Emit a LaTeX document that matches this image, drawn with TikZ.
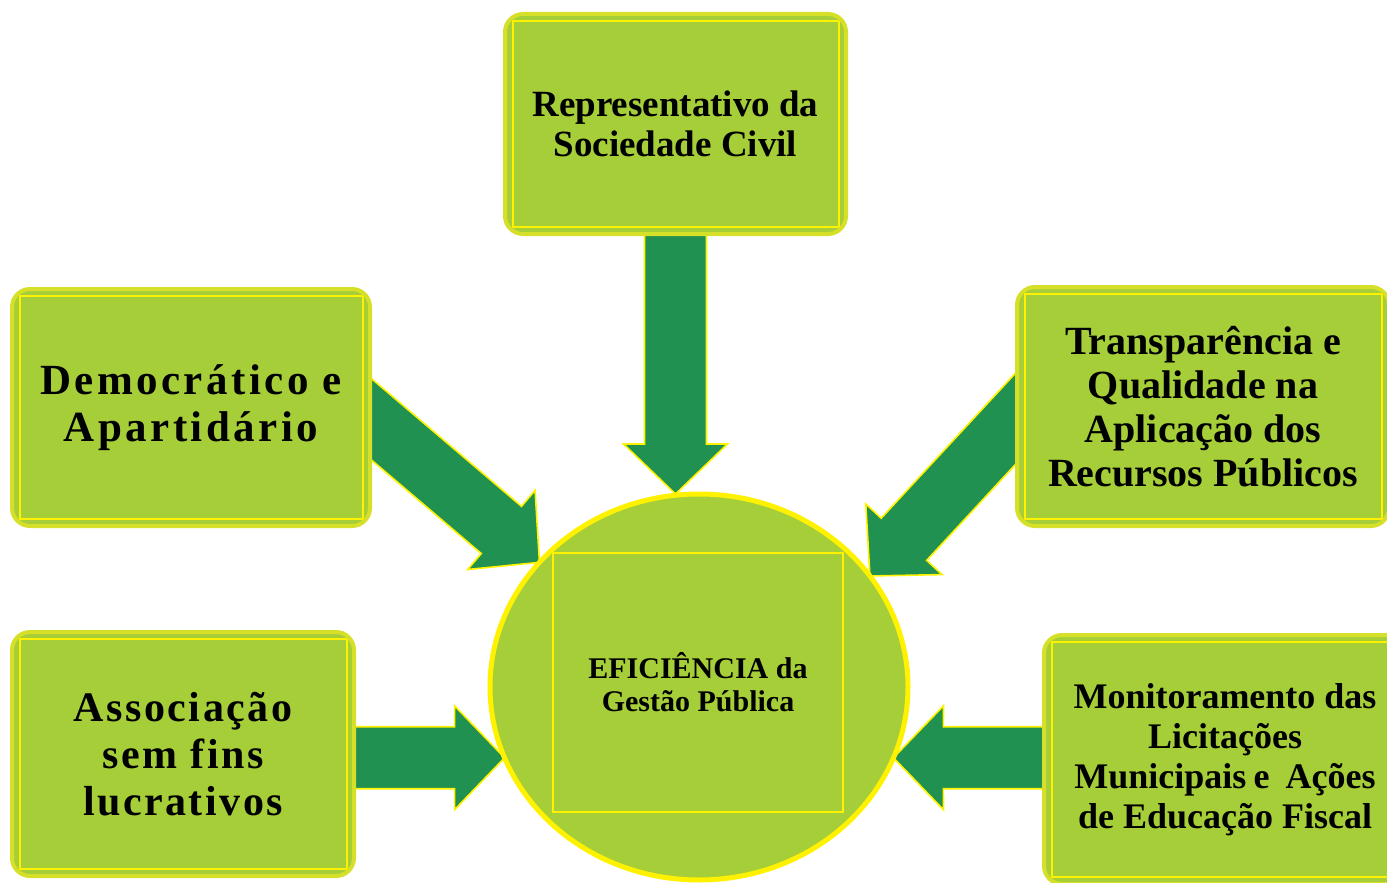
\documentclass[tikz,border=0pt]{standalone}
\usepackage{fontspec}
\setmainfont{Liberation Serif}
\usetikzlibrary{calc,
	positioning,
	shapes.geometric}
\definecolor{cardfill}{RGB}{166,206,57}
\definecolor{cardedge}{RGB}{214,224,40}
\definecolor{arrowgreen}{RGB}{32,145,80}
\pgfdeclarelayer{background}
\pgfsetlayers{background,main}
\tikzset{
	card/.style={draw=cardedge, line width=4pt, fill=cardfill, rounded corners=18pt,
		inner sep=0pt, outer sep=0pt, align=center,
		path picture={\draw[yellow, line width=1.6pt, sharp corners]
			([shift={(8pt,-7pt)}]path picture bounding box.north west) rectangle
			([shift={(-7pt,7pt)}]path picture bounding box.south east);}},
	hubstyle/.style={ellipse, draw=yellow, line width=5pt, fill=cardfill,
		inner sep=0pt, outer sep=0pt, minimum width=418pt, minimum height=386pt},
	hubbox/.style={draw=yellow, line width=1.2pt, inner sep=0pt, outer sep=0pt,
		align=center, font=\bfseries\fontsize{30}{33}\selectfont},
	blockarrow/.style={fill=arrowgreen, draw=yellow, line width=1.6pt, line join=miter}
}
\newcommand{\blockarrow}[2]{%
	\draw[blockarrow] ($(#1)!31pt!90:(#2)$) -- ($(#2)!58.83pt!-31.8:(#1)$)
		-- ($(#2)!72.14pt!-46.1:(#1)$) -- (#2) -- ($(#2)!72.14pt!46.1:(#1)$)
		-- ($(#2)!58.83pt!31.8:(#1)$) -- ($(#1)!31pt!-90:(#2)$) -- cycle;}

\begin{document}
\begin{tikzpicture}[x=1pt, y=-1pt]
	\useasboundingbox (0,0) rectangle (1387,883);
	\node[hubstyle] (hub) at (699,687) {};
	\node[hubbox, minimum width=290pt, minimum height=259pt] (hubtext) at (698,682.5) {EFICIÊNCIA da\\Gestão Pública};
	\node[card, minimum width=341pt, minimum height=220pt,
		font=\bfseries\fontsize{37}{40}\selectfont] (sociedade) at (675.5,124)
		{Representativo da\\Sociedade Civil};
	\node[card, minimum width=358pt, minimum height=237pt,
		font=\bfseries\fontsize{43}{47}\selectfont\addfontfeature{LetterSpace=8}] (democratico) at (191,407.5)
		{Democrático e\\Apartidário};
	\node[card, minimum width=372pt, minimum height=239pt,
		font=\bfseries\fontsize{40}{44}\selectfont] (transparencia) at (1203,406.5)
		{Transparência e\\Qualidade na\\Aplicação dos\\Recursos Públicos};
	\node[card, minimum width=342pt, minimum height=244pt,
		font=\bfseries\fontsize{42}{47}\selectfont\addfontfeature{LetterSpace=6}] (associacao) at (183,754)
		{Associação\\sem fins\\lucrativos};
	\node[card, minimum width=362pt, minimum height=249pt,
		font=\bfseries\fontsize{36}{40}\selectfont] (monitoramento) at (1225,759.5)
		{Monitoramento das\\Licitações\\Municipais\hspace{0.2em}e\hspace{0.45em}Ações\\de Educação Fiscal};
	\coordinate (soc-in) at (sociedade.south |- hub.north);
	\coordinate (dem-out) at ($(democratico.east)+(-40,-23.5)$);
	\coordinate (tra-out) at ($(transparencia.west)+(33,-25)$);
	\coordinate (ass-out) at (associacao.east |- hub.200);
	\coordinate (mon-out) at (monitoramento.west |- hub.340);
	\begin{pgfonlayer}{background}
		\blockarrow{sociedade.south}{soc-in}
		\blockarrow{dem-out}{hub.142}
		\blockarrow{tra-out}{hub.33}
		\blockarrow{ass-out}{hub.200}
		\blockarrow{mon-out}{hub.340}
	\end{pgfonlayer}
\end{tikzpicture}
\end{document}
